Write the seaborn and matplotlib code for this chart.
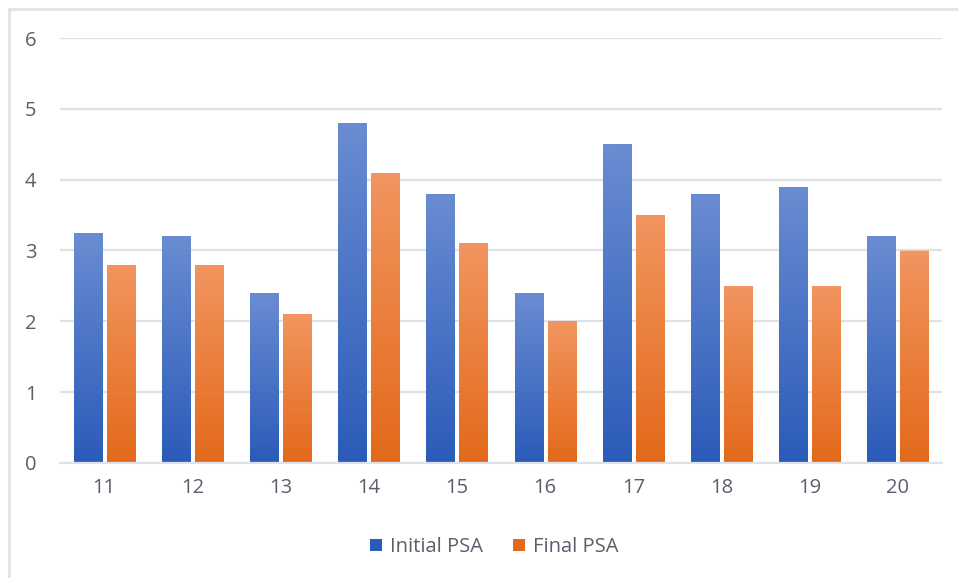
import numpy as np
import pandas as pd
import matplotlib
matplotlib.use("Agg")
import matplotlib.pyplot as plt
import seaborn as sns
from matplotlib.colors import LinearSegmentedColormap
from matplotlib.lines import Line2D
from matplotlib.patches import Patch

categories = ["11", "12", "13", "14", "15", "16", "17", "18", "19", "20"]
initial_psa = [3.25, 3.2, 2.4, 4.8, 3.8, 2.4, 4.5, 3.8, 3.9, 3.2]
final_psa = [2.8, 2.8, 2.1, 4.1, 3.1, 2.0, 3.5, 2.5, 2.5, 3.0]
series_names = ["Initial PSA", "Final PSA"]
yticks = [0, 1, 2, 3, 4, 5, 6]

df = pd.DataFrame({
    "cat": categories * 2,
    "value": initial_psa + final_psa,
    "series": [series_names[0]] * len(categories) + [series_names[1]] * len(categories),
})

sns.set_theme(style="white")
plt.rcParams["font.family"] = ["Open Sans", "DejaVu Sans"]

text_color = "#595f6b"
grid_color = "#dde1e8"
base_colors = {"Initial PSA": "#4472c4", "Final PSA": "#ed7d31"}
grads = {
    "Initial PSA": ("#2b5bb8", "#6a8cd2"),
    "Final PSA": ("#e3691a", "#f29560"),
}

fig = plt.figure(figsize=(9.58, 5.78), dpi=100)
W, H = 958, 578
ax = fig.add_axes([60 / W, (H - 463) / H, (942 - 60) / W, (463 - 38) / H])

sns.barplot(data=df, x="cat", y="value", hue="series", palette=base_colors,
            width=0.75, gap=0.15, ax=ax, legend=False, saturation=1)

ax.set_ylim(0, 6)
ax.set_xlim(-0.5, 9.5)
ax.set_yticks(yticks)
ax.set_xlabel("")
ax.set_ylabel("")
ax.grid(axis="y", color=grid_color, linewidth=1.6)
ax.set_axisbelow(True)
for s in ["top", "right", "left"]:
    ax.spines[s].set_visible(False)
ax.spines["bottom"].set_color(grid_color)
ax.spines["bottom"].set_linewidth(1.6)
ax.tick_params(axis="both", length=0, labelsize=14.5, labelcolor=text_color)
ax.tick_params(axis="y", pad=17)
ax.tick_params(axis="x", pad=11)

# gradient fill on each bar
n = len(categories)
for i, patch in enumerate(ax.patches[: 2 * n]):
    name = series_names[i // n]
    bot, top = grads[name]
    cmap = LinearSegmentedColormap.from_list(name, [bot, top])
    x0, y0 = patch.get_x(), patch.get_y()
    w, h = patch.get_width(), patch.get_height()
    grad = np.linspace(0, 1, 256).reshape(-1, 1)
    im = ax.imshow(grad, cmap=cmap, origin="lower", aspect="auto",
                   extent=[x0, x0 + w, y0, y0 + h], zorder=patch.get_zorder() + 0.1)
    im.set_clip_path(patch)
    patch.set_edgecolor((1, 1, 1, 0.35))
    patch.set_linewidth(0.8)
ax.set_xlim(-0.5, 9.5)
ax.set_ylim(0, 6)

handles = [Patch(facecolor=grads[nm][0], edgecolor="none") for nm in series_names]
fig.legend(handles, series_names, loc="center", bbox_to_anchor=(494 / W, (H - 547) / H),
           ncol=2, frameon=False, fontsize=14.5, labelcolor=text_color,
           handlelength=0.6, handleheight=0.6, handletextpad=0.4, columnspacing=1.5)

# figure border (top and left)
fig.add_artist(Line2D([9 / W, 1], [1 - 9 / H, 1 - 9 / H], color="#dfe3ea", linewidth=2, transform=fig.transFigure))
fig.add_artist(Line2D([9 / W, 9 / W], [0, 1 - 9 / H], color="#dfe3ea", linewidth=2, transform=fig.transFigure))

fig.savefig("out.png", dpi=100, facecolor="white")
